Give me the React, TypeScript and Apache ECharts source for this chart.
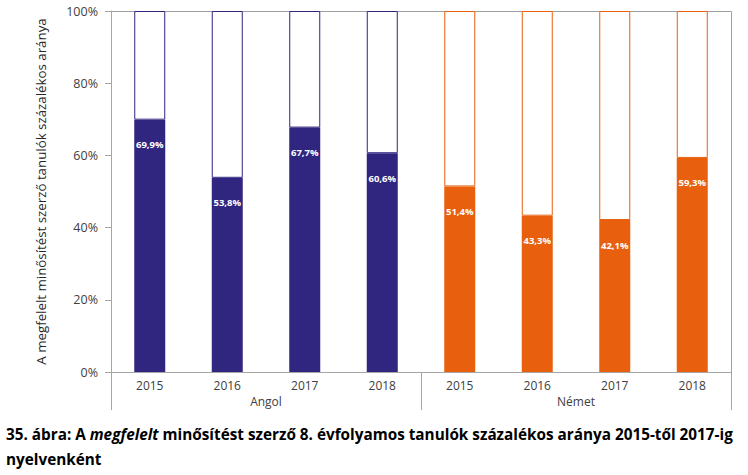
import React, { useEffect, useRef } from "react";
import * as echarts from "echarts";

const years = ["2015", "2016", "2017", "2018", "2015", "2016", "2017", "2018"];
const groups = ["Angol", "Német"];
const values = [69.9, 53.8, 67.7, 60.6, 51.4, 43.3, 42.1, 59.3];
const groupOf = [0, 0, 0, 0, 1, 1, 1, 1];
const yTicks = [0, 20, 40, 60, 80, 100];
const colors = ["#30257f", "#e8600e"];
const yTitle = "A megfelelt minősítést szerző tanulók százalékos aránya";
const captionA = "35. ábra: A ";
const captionItalic = "megfelelt";
const captionB = " minősítést szerző 8. évfolyamos tanulók százalékos aránya 2015-től 2017-ig";
const captionLine2 = "nyelvenként";

export default function App() {
  const ref = useRef<HTMLDivElement>(null);
  useEffect(() => {
    if (!ref.current) return;
    const chart = echarts.init(ref.current, null, { renderer: "svg" });
    const font = "'Open Sans', sans-serif";
    const filled = values.map((v, i) => ({
      value: v,
      itemStyle: { color: colors[groupOf[i]] },
    }));
    const rest = values.map((v, i) => ({
      value: +(100 - v).toFixed(1),
      itemStyle: { color: "#ffffff", borderColor: colors[groupOf[i]], borderWidth: 1 },
    }));
    const capSize = 15.3;
    chart.setOption({
      animation: false,
      backgroundColor: "#ffffff",
      grid: { left: 111, right: 17, top: 11, bottom: 103, containLabel: false },
      xAxis: [
        {
          type: "category",
          data: years,
          axisLine: { show: true, lineStyle: { color: "#a6a6a6", width: 1 } },
          axisTick: { show: false },
          axisLabel: { color: "#404040", fontSize: 12, fontFamily: font, margin: 7 },
        },
        {
          type: "category",
          data: groups,
          position: "bottom",
          axisLine: { show: false },
          axisTick: { show: true, length: 38, lineStyle: { color: "#a6a6a6", width: 1 } },
          axisLabel: { color: "#404040", fontSize: 12, fontFamily: font, margin: 23 },
        },
      ],
      yAxis: {
        type: "value",
        min: 0,
        max: 100,
        interval: 20,
        axisLine: { show: true, lineStyle: { color: "#a6a6a6" } },
        axisTick: { show: true, length: 6, lineStyle: { color: "#a6a6a6" } },
        splitLine: { show: false },
        axisLabel: {
          color: "#404040",
          fontSize: 12.5,
          fontFamily: font,
          margin: 13,
          formatter: (v: number) => (yTicks.includes(v) ? v + "%" : ""),
        },
        name: yTitle,
        nameLocation: "middle",
        nameRotate: 90,
        nameGap: 64,
        nameTextStyle: { color: "#262626", fontSize: 13.3, fontFamily: font },
      },
      series: [
        {
          type: "bar",
          stack: "s",
          xAxisIndex: 0,
          data: filled,
          barWidth: 31,
          label: {
            show: true,
            position: "insideTop",
            distance: 20,
            color: "#ffffff",
            fontSize: 9.5,
            fontWeight: "bold",
            fontFamily: font,
            formatter: (p: any) => p.value.toFixed(1).replace(".", ",") + "%",
          },
        },
        {
          type: "bar",
          stack: "s",
          xAxisIndex: 0,
          data: rest,
          barWidth: 31,
          silent: true,
        },
      ],
      graphic: [
        {
          id: "cap1",
          type: "text",
          left: 6,
          top: 426,
          style: {
            text: "{b|" + captionA + "}{i|" + captionItalic + "}{b|" + captionB + "}",
            rich: {
              b: { fontSize: capSize, fontWeight: "bold", fontFamily: font, fill: "#000000" },
              i: { fontSize: capSize, fontWeight: "bold", fontStyle: "italic", fontFamily: font, fill: "#000000" },
            },
          },
        },
        {
          id: "cap2",
          type: "text",
          left: 6,
          top: 451,
          style: {
            text: captionLine2,
            fontSize: capSize,
            fontWeight: "bold",
            fontFamily: font,
            fill: "#000000",
          },
        },
      ],
    });
    // Frame lines (top and right) derived from the chart's own axes
    const yTop = chart.convertToPixel({ yAxisIndex: 0 }, 100) as number;
    const yZero = chart.convertToPixel({ yAxisIndex: 0 }, 0) as number;
    const c0 = chart.convertToPixel({ xAxisIndex: 0 }, 0) as number;
    const cN = chart.convertToPixel({ xAxisIndex: 0 }, years.length - 1) as number;
    const band = (cN - c0) / (years.length - 1);
    const xLeft = c0 - band / 2;
    const xRight = cN + band / 2;
    const snap = (v: number) => Math.round(v) + 0.5;
    chart.setOption({
      graphic: [
        {
          id: "frameTop",
          type: "line",
          shape: { x1: snap(xLeft), y1: snap(yTop), x2: snap(xRight), y2: snap(yTop) },
          style: { stroke: "#a0a0a0", lineWidth: 1 },
          silent: true,
        },
        {
          id: "frameRight",
          type: "line",
          shape: { x1: snap(xRight), y1: snap(yTop), x2: snap(xRight), y2: snap(yZero) },
          style: { stroke: "#a0a0a0", lineWidth: 1 },
          silent: true,
        },
      ],
    });
    return () => chart.dispose();
  }, []);
  return <div ref={ref} style={{ width: 748, height: 475, position: "absolute", left: 0, top: 0 }} />;
}
